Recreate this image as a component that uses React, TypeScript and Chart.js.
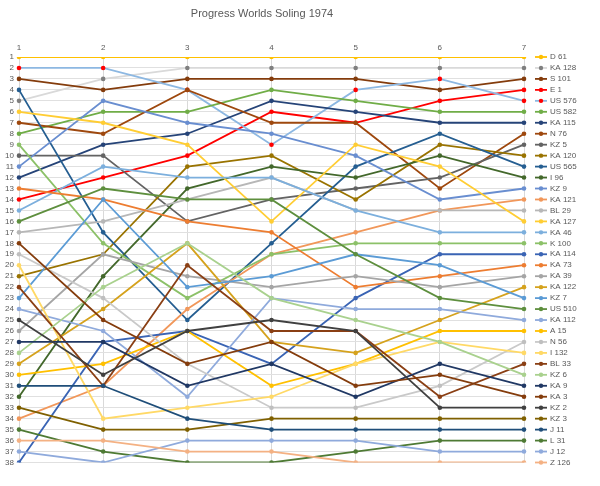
import React, { useEffect, useRef } from "react";
import { Chart, registerables } from "chart.js";

Chart.register(...registerables);

const chartTitle = "Progress Worlds Soling 1974";
const races = ["1", "2", "3", "4", "5", "6", "7"];

const boats = [
  "D 61", "KA 128", "S 101", "E 1", "US 576", "US 582", "KA 115", "N 76", "KZ 5", "KA 120",
  "US 565", "I 96", "KZ 9", "KA 121", "BL 29", "KA 127", "KA 46", "K 100", "KA 114", "KA 73",
  "KA 39", "KA 122", "KZ 7", "US 510", "KA 112", "A 15", "N 56", "I 132", "BL 33", "KZ 6",
  "KA 9", "KA 3", "KZ 2", "KZ 3", "J 11", "L 31", "J 12", "Z 126",
];

// Rank of each boat (same order as boats) in each race
const race1 = [1, 5, 3, 14, 2, 8, 12, 7, 10, 21, 4, 32, 11, 34, 17, 6, 15, 9, 38, 13, 26, 29, 23, 16, 24, 30, 19, 20, 22, 28, 27, 18, 25, 33, 31, 35, 37, 36];
const race2 = [1, 3, 4, 12, 2, 6, 9, 8, 10, 19, 17, 21, 5, 31, 16, 7, 11, 18, 27, 14, 19, 24, 14, 13, 26, 29, 23, 34, 31, 22, 27, 25, 30, 35, 31, 37, 38, 36];
const race3 = [1, 2, 3, 10, 4, 6, 8, 4, 16, 11, 25, 13, 7, 24, 14, 9, 12, 23, 26, 16, 21, 18, 22, 14, 32, 26, 29, 33, 20, 18, 31, 29, 26, 35, 34, 38, 36, 37];
const race4 = [1, 2, 3, 6, 9, 4, 5, 7, 14, 10, 18, 11, 8, 19, 12, 16, 12, 19, 29, 17, 22, 27, 21, 14, 23, 31, 33, 32, 26, 23, 29, 27, 25, 34, 35, 38, 36, 37];
const race5 = [1, 2, 3, 7, 4, 5, 6, 7, 13, 14, 11, 12, 10, 17, 15, 9, 15, 18, 23, 22, 21, 28, 19, 19, 24, 29, 33, 29, 26, 25, 32, 31, 26, 34, 35, 37, 36, 38];
const race6 = [1, 2, 4, 5, 3, 6, 7, 13, 12, 9, 8, 10, 14, 15, 15, 11, 17, 18, 19, 21, 22, 25, 20, 23, 24, 26, 31, 27, 32, 27, 29, 30, 33, 34, 35, 36, 37, 38];
const race7 = [1, 2, 3, 4, 5, 6, 7, 8, 9, 10, 11, 12, 13, 14, 15, 16, 17, 18, 19, 20, 21, 22, 23, 24, 25, 26, 27, 28, 29, 30, 31, 32, 33, 34, 35, 36, 37, 38];

const lineColors = [
  "#FFC000", "#D9D9D9", "#843C0C", "#FF0000", "#8DB8E2", "#70AD47", "#264478", "#9E480E", "#636363", "#997300",
  "#255E91", "#43682B", "#698ED0", "#F1975A", "#B7B7B7", "#FFCD33", "#7CAFDD", "#8CC168", "#3A64B4", "#ED7D31",
  "#A5A5A5", "#D5A21D", "#5B9BD5", "#5E8F3E", "#8FAADC", "#FFC000", "#C9C9C9", "#FFD966", "#8A3F14", "#A9D18E",
  "#203864", "#843C0C", "#404040", "#7F6000", "#1F4E79", "#4E7A34", "#8FAADC", "#F4B183",
];
const markerColors = lineColors.map((c, i) =>
  i === 1 ? "#7F7F7F" : i === 4 ? "#FF0000" : i === 26 ? "#BFBFBF" : c
);

const FONT = '"Liberation Sans", Arial, sans-serif';
const TEXT = "#595959";

const sideLegend = {
  id: "sideLegend",
  afterDraw(chart: any) {
    const { ctx, chartArea } = chart;
    const y = chart.scales.y;
    ctx.save();
    chart.data.datasets.forEach((ds: any, i: number) => {
      const yy = y.getPixelForValue(race7[i]);
      const x0 = chartArea.right + 11;
      ctx.strokeStyle = ds.borderColor;
      ctx.lineWidth = 1.8;
      ctx.beginPath();
      ctx.moveTo(x0, yy);
      ctx.lineTo(x0 + 12, yy);
      ctx.stroke();
      ctx.fillStyle = ds.pointBackgroundColor;
      ctx.beginPath();
      ctx.arc(x0 + 6, yy, 2.2, 0, Math.PI * 2);
      ctx.fill();
      ctx.fillStyle = TEXT;
      ctx.font = `8px ${FONT}`;
      ctx.textBaseline = "middle";
      ctx.textAlign = "left";
      ctx.fillText(ds.label, x0 + 15, yy);
    });
    ctx.restore();
  },
};

export default function App() {
  const ref = useRef<HTMLCanvasElement | null>(null);

  useEffect(() => {
    if (!ref.current) return;
    const allRaces = [race1, race2, race3, race4, race5, race6, race7];
    const datasets = boats.map((name, i) => ({
      label: name,
      data: allRaces.map((r) => r[i]),
      borderColor: lineColors[i],
      backgroundColor: lineColors[i],
      pointBackgroundColor: markerColors[i],
      pointBorderColor: markerColors[i],
      pointBorderWidth: 0,
      pointRadius: 2.3,
      borderWidth: 1.8,
      tension: 0,
      fill: false,
      order: boats.length - i,
    }));

    const chart = new Chart(ref.current, {
      type: "line",
      data: { labels: races, datasets },
      options: {
        responsive: false,
        animation: false,
        layout: { padding: { left: 0, right: 76, top: 0, bottom: 23.5 } },
        plugins: {
          legend: { display: false },
          tooltip: { enabled: false },
          title: {
            display: true,
            text: chartTitle,
            color: TEXT,
            font: { family: FONT, size: 11, weight: "normal" },
            padding: { top: 7, bottom: 7 },
          },
        },
        scales: {
          x: {
            type: "category",
            position: "top",
            offset: false,
            grid: { color: "#D9D9D9", lineWidth: 1, drawTicks: false },
            border: { display: false },
            ticks: { color: TEXT, font: { family: FONT, size: 8 }, padding: 4, maxRotation: 0 },
            afterFit(scale: any) {
              scale.height = 57 - 27.2;
            },
          },
          y: {
            type: "linear",
            reverse: true,
            min: 1,
            max: 38,
            grid: { color: "#E0E0E0", lineWidth: 1, drawTicks: false },
            border: { display: false },
            ticks: {
              stepSize: 1,
              autoSkip: false,
              color: TEXT,
              font: { family: FONT, size: 8 },
              padding: 5,
            },
            afterFit(scale: any) {
              scale.width = 19;
            },
          },
        },
      },
      plugins: [sideLegend],
    });
    return () => chart.destroy();
  }, []);

  return (
    <div style={{ position: "fixed", left: 0, top: 0, width: 600, height: 486, background: "#fff" }}>
      <canvas ref={ref} width={600} height={486} />
    </div>
  );
}
